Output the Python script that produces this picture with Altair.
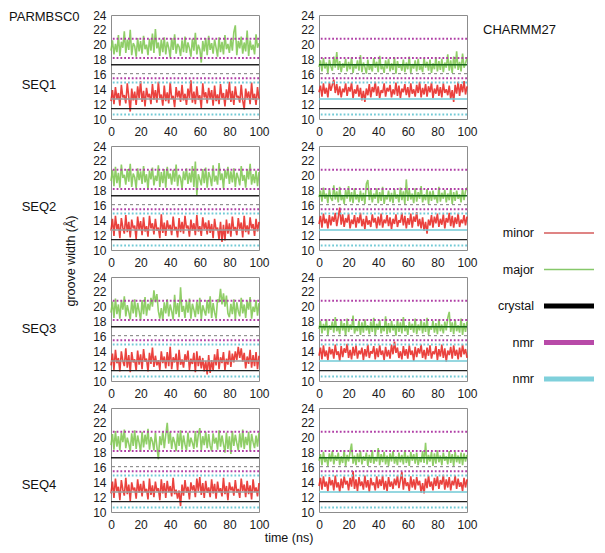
import altair as alt
import numpy as np
import pandas as pd

FONT = "Liberation Sans"
GREEN = "#7cc64e"
RED = "#e6211c"
MAGENTA = "#b03fa6"
CYAN = "#72cad6"

# ---------------- data ----------------
L1_major = [19.2, 20.6, 18.7, 20.1, 19.0, 21.3, 18.5, 20.4, 19.6, 21.8, 18.9, 20.7, 19.3, 22.0, 18.6, 20.2, 19.8, 18.4, 20.9, 19.1, 20.5, 18.8, 21.2, 19.4, 20.0, 18.6, 20.8, 19.2, 21.5, 18.9, 22.1, 19.5, 20.3, 18.5, 20.7, 19.0, 21.0, 18.7, 20.4, 19.6, 18.3, 20.9, 19.3, 21.4, 18.8, 20.1, 19.7, 18.5, 20.6, 19.0, 21.1, 18.9, 20.3, 19.5, 18.4, 20.8, 19.2, 21.6, 18.7, 20.0, 19.4, 17.6, 20.5, 19.1, 20.9, 18.6, 21.2, 19.3, 20.2, 18.8, 20.7, 19.6, 18.4, 21.0, 19.0, 20.4, 18.7, 21.3, 19.4, 20.1, 18.9, 20.8, 19.2, 21.7, 22.6, 18.6, 20.5, 19.5, 21.1, 18.8, 20.3, 19.1, 21.9, 18.5, 20.6, 19.3, 20.0, 18.7, 21.4, 19.6, 20.2]
L1_minor = [12.4, 13.9, 12.0, 14.3, 12.7, 13.5, 11.8, 14.6, 12.9, 13.2, 12.1, 14.8, 13.0, 11.0, 14.1, 12.5, 13.7, 11.9, 14.4, 12.8, 15.1, 12.3, 13.8, 11.7, 14.2, 12.9, 13.4, 12.0, 14.7, 12.6, 13.9, 12.2, 15.0, 12.8, 13.3, 11.8, 14.5, 12.4, 13.6, 12.1, 14.9, 12.7, 13.1, 11.6, 14.3, 12.9, 13.8, 12.3, 14.6, 12.5, 13.4, 11.9, 14.1, 12.8, 15.2, 12.2, 13.7, 12.0, 14.4, 12.6, 13.2, 11.5, 14.8, 12.9, 13.6, 12.1, 14.2, 12.7, 13.9, 11.8, 14.5, 12.4, 13.3, 12.0, 14.7, 12.8, 13.5, 11.7, 14.0, 12.6, 15.0, 12.3, 13.8, 11.9, 14.4, 12.9, 13.1, 12.2, 14.6, 12.5, 11.3, 14.1, 12.8, 13.7, 12.0, 14.9, 12.6, 13.4, 11.9, 14.3, 12.7]
R1_major = [17.0, 17.9, 16.4, 18.2, 16.8, 17.6, 16.2, 18.0, 17.1, 16.5, 18.4, 16.9, 19.0, 16.6, 17.8, 16.3, 17.5, 16.9, 18.1, 16.4, 17.7, 16.7, 18.3, 16.2, 17.4, 16.8, 17.9, 16.5, 18.6, 16.3, 17.6, 17.0, 16.1, 18.0, 16.6, 17.3, 16.4, 18.2, 16.9, 17.7, 16.3, 18.5, 16.7, 17.2, 16.2, 17.9, 16.8, 18.1, 16.4, 17.5, 16.6, 18.3, 16.1, 17.8, 16.9, 17.3, 16.5, 18.0, 16.3, 17.6, 16.7, 18.4, 16.2, 17.4, 16.8, 17.9, 16.4, 18.1, 16.6, 17.2, 16.3, 18.2, 16.9, 17.7, 16.5, 18.0, 16.2, 17.5, 16.7, 18.3, 16.4, 17.8, 16.6, 18.1, 16.3, 17.6, 16.9, 18.7, 16.5, 17.9, 16.2, 18.4, 16.8, 19.1, 16.6, 17.7, 16.4, 18.8, 16.9, 17.5, 18.2]
R1_minor = [13.6, 14.5, 13.0, 14.8, 13.4, 14.2, 12.9, 14.9, 13.8, 14.6, 15.3, 13.5, 14.7, 13.2, 14.4, 12.9, 14.1, 13.6, 14.8, 13.1, 14.3, 13.7, 14.9, 12.8, 14.0, 13.4, 14.6, 13.0, 14.2, 12.5, 13.8, 12.3, 14.1, 13.2, 14.7, 12.9, 14.3, 13.6, 15.0, 13.1, 14.4, 12.8, 13.9, 13.5, 14.8, 13.0, 14.2, 13.7, 14.6, 12.9, 14.0, 13.3, 14.9, 13.1, 14.5, 12.8, 14.1, 13.6, 14.7, 13.2, 14.3, 12.9, 14.8, 13.4, 14.0, 13.0, 14.6, 13.5, 15.0, 12.9, 14.2, 13.3, 14.7, 13.0, 14.4, 13.6, 14.9, 12.8, 14.1, 13.4, 14.6, 13.1, 14.3, 12.9, 14.8, 13.5, 14.0, 13.2, 14.5, 12.7, 13.9, 12.3, 14.6, 13.4, 15.0, 13.1, 14.7, 13.6, 15.1, 13.3, 14.4]
L2_major = [19.3, 20.8, 18.6, 21.2, 19.0, 20.4, 18.4, 21.5, 19.7, 20.1, 18.8, 20.9, 19.2, 21.6, 18.5, 20.3, 19.8, 18.3, 21.0, 19.4, 20.6, 18.9, 21.3, 19.1, 20.2, 18.2, 20.7, 19.5, 21.1, 18.7, 20.0, 19.3, 21.4, 18.5, 20.5, 19.0, 20.9, 18.4, 21.2, 19.6, 20.3, 18.8, 20.8, 19.2, 21.5, 18.6, 20.1, 19.7, 18.3, 20.6, 19.4, 21.0, 18.9, 20.4, 19.1, 21.3, 18.5, 21.9, 17.4, 20.2, 19.5, 18.7, 20.9, 19.0, 21.1, 18.4, 20.5, 19.8, 18.6, 21.4, 19.2, 20.0, 18.8, 21.7, 19.4, 20.3, 18.3, 20.8, 19.6, 21.2, 18.9, 20.6, 19.1, 21.0, 18.5, 20.4, 19.7, 18.7, 21.3, 19.3, 20.1, 18.4, 20.9, 19.5, 21.6, 18.8, 20.2, 19.0, 20.7, 18.6, 20.5]
L2_minor = [12.6, 14.2, 11.9, 14.6, 12.8, 13.5, 11.6, 14.3, 13.0, 12.2, 14.7, 12.4, 13.8, 11.7, 14.1, 12.9, 13.3, 11.5, 14.5, 12.7, 13.9, 12.0, 14.4, 12.5, 13.2, 11.8, 14.6, 12.9, 13.6, 12.1, 14.2, 12.6, 13.0, 11.6, 14.8, 12.3, 13.7, 11.9, 14.0, 12.8, 13.4, 12.0, 14.5, 12.7, 13.1, 11.7, 14.3, 12.4, 13.8, 12.2, 14.6, 12.9, 13.3, 11.8, 14.1, 12.6, 13.6, 12.0, 14.7, 12.5, 13.2, 11.9, 14.4, 12.8, 13.7, 12.1, 14.0, 12.3, 13.5, 11.6, 14.2, 12.7, 13.0, 11.4, 13.8, 11.1, 13.4, 11.3, 14.1, 12.2, 13.6, 11.8, 14.5, 12.6, 13.1, 12.0, 14.3, 12.8, 13.7, 11.7, 14.6, 12.4, 13.3, 12.1, 14.4, 12.9, 13.5, 11.9, 14.2, 12.5, 13.8]
R2_major = [17.1, 18.0, 16.5, 18.4, 16.9, 17.6, 16.3, 18.2, 17.0, 16.6, 18.7, 16.8, 17.9, 16.4, 18.5, 16.7, 17.4, 16.2, 18.1, 16.9, 18.6, 16.5, 17.8, 16.3, 18.3, 16.8, 17.5, 16.4, 18.0, 16.6, 17.7, 16.2, 18.9, 19.4, 16.7, 18.1, 16.4, 17.6, 16.9, 18.3, 16.3, 17.8, 16.6, 18.5, 16.2, 17.4, 16.8, 18.0, 16.5, 17.7, 16.3, 18.2, 16.9, 17.5, 16.4, 18.4, 16.7, 17.9, 16.2, 19.5, 16.6, 18.1, 16.8, 17.6, 16.3, 18.3, 16.5, 17.8, 16.9, 18.6, 16.4, 17.5, 16.7, 18.2, 16.2, 17.9, 16.6, 18.0, 16.8, 17.4, 16.3, 18.5, 16.5, 17.7, 16.9, 18.1, 16.4, 17.6, 16.7, 18.3, 16.2, 17.8, 16.6, 18.0, 16.9, 17.5, 16.4, 18.2, 16.7, 17.9, 18.4]
R2_minor = [13.5, 14.6, 13.0, 14.9, 13.6, 14.2, 12.9, 14.7, 13.3, 14.5, 13.8, 15.0, 13.2, 14.4, 15.7, 13.4, 14.8, 13.1, 14.3, 13.7, 14.9, 12.9, 14.1, 13.5, 14.7, 13.0, 14.4, 13.6, 15.0, 13.2, 14.2, 12.8, 14.6, 13.4, 14.0, 13.1, 14.8, 13.7, 14.3, 12.9, 14.5, 13.3, 14.9, 13.0, 14.1, 13.6, 14.7, 13.2, 14.4, 12.8, 14.2, 13.5, 14.8, 13.1, 14.0, 13.7, 15.0, 13.3, 14.6, 12.9, 14.3, 13.4, 14.9, 13.0, 14.5, 13.8, 15.1, 13.2, 14.2, 12.9, 14.4, 12.6, 13.8, 12.2, 14.1, 13.3, 14.7, 13.0, 14.5, 13.6, 14.9, 13.1, 14.2, 13.4, 14.8, 12.9, 14.3, 13.7, 15.0, 13.2, 14.6, 13.0, 14.4, 13.5, 14.9, 13.1, 14.1, 13.6, 14.7, 13.3, 14.5]
L3_major = [19.2, 20.7, 18.5, 21.1, 19.0, 20.3, 18.4, 20.9, 19.6, 21.4, 18.7, 20.2, 19.3, 18.3, 20.8, 19.1, 21.0, 18.6, 20.5, 19.4, 18.2, 20.9, 19.0, 21.3, 18.8, 20.4, 19.5, 21.2, 20.0, 22.2, 20.6, 21.7, 19.4, 18.4, 19.8, 18.2, 20.6, 19.1, 21.0, 18.7, 20.3, 19.4, 18.3, 21.6, 19.0, 20.5, 18.6, 22.6, 19.3, 20.1, 18.5, 20.8, 19.2, 21.1, 18.4, 20.4, 19.6, 18.6, 20.7, 19.0, 21.2, 18.3, 20.2, 19.5, 18.8, 20.9, 19.1, 21.4, 18.5, 20.5, 19.2, 18.4, 21.0, 20.6, 22.4, 20.3, 21.8, 20.0, 21.5, 19.1, 18.6, 20.4, 19.0, 21.0, 18.3, 20.6, 19.4, 18.7, 21.2, 19.1, 20.3, 18.5, 20.8, 19.6, 21.3, 18.4, 20.0, 19.3, 20.9, 18.8, 20.5]
L3_minor = [12.1, 13.7, 11.5, 14.2, 12.4, 13.1, 11.3, 14.0, 12.7, 12.0, 14.4, 11.8, 13.5, 11.2, 13.9, 12.5, 12.9, 11.4, 14.1, 12.2, 13.6, 11.6, 14.3, 12.6, 13.0, 11.3, 13.8, 12.3, 14.5, 11.9, 13.4, 12.1, 12.8, 11.5, 14.0, 12.4, 13.3, 11.7, 13.9, 12.0, 14.6, 11.6, 13.2, 12.5, 13.7, 11.4, 14.2, 12.2, 12.9, 11.8, 13.6, 12.6, 14.1, 11.5, 13.0, 12.3, 13.8, 11.2, 14.0, 12.0, 13.4, 11.7, 13.1, 11.3, 12.7, 10.9, 13.5, 11.1, 12.8, 11.4, 13.6, 12.1, 14.3, 11.6, 13.2, 12.4, 13.9, 11.5, 13.0, 12.2, 14.1, 11.9, 13.7, 12.5, 14.0, 12.8, 14.6, 13.1, 14.4, 12.6, 13.8, 11.7, 13.3, 12.3, 14.2, 11.8, 13.5, 12.0, 13.9, 11.6, 13.4]
R3_major = [17.0, 18.1, 16.4, 17.7, 16.8, 18.3, 16.2, 17.5, 16.9, 18.0, 16.5, 18.6, 16.7, 17.4, 16.3, 18.2, 16.8, 17.8, 16.1, 18.4, 16.6, 17.6, 16.9, 18.8, 16.4, 17.3, 16.7, 18.1, 16.2, 17.9, 16.5, 18.3, 16.8, 17.5, 16.3, 18.0, 16.6, 18.5, 16.2, 17.7, 16.9, 18.2, 16.4, 17.4, 16.7, 18.7, 16.3, 17.8, 16.5, 18.1, 16.8, 17.6, 16.1, 18.3, 16.6, 17.9, 16.4, 18.6, 16.7, 17.5, 16.2, 18.0, 16.9, 17.7, 16.5, 18.4, 16.3, 17.6, 16.8, 18.2, 16.4, 17.9, 16.6, 18.5, 16.2, 17.4, 16.9, 18.1, 16.5, 17.8, 16.3, 18.3, 16.7, 17.6, 16.4, 18.0, 16.8, 18.5, 19.3, 16.6, 17.9, 16.3, 18.2, 16.7, 17.5, 16.5, 18.4, 16.2, 17.8, 16.6, 18.0]
R3_minor = [13.4, 14.5, 12.9, 14.8, 13.3, 14.1, 12.8, 14.6, 13.6, 14.3, 13.0, 14.9, 13.5, 14.0, 12.7, 14.7, 13.2, 14.4, 13.8, 15.0, 13.1, 14.2, 12.9, 14.6, 13.4, 14.8, 13.0, 14.1, 13.6, 14.5, 12.8, 14.3, 13.3, 14.9, 13.1, 14.0, 13.7, 14.7, 12.9, 14.4, 13.2, 14.8, 13.5, 14.1, 12.8, 14.6, 13.3, 14.2, 13.0, 14.9, 13.6, 15.3, 13.8, 14.5, 13.1, 14.0, 12.9, 14.7, 13.4, 14.3, 13.0, 14.8, 13.5, 14.1, 12.7, 14.6, 13.2, 14.4, 13.7, 14.9, 13.1, 14.2, 12.9, 14.5, 13.4, 14.8, 13.0, 14.0, 13.6, 14.7, 12.8, 14.3, 13.3, 14.9, 13.1, 14.4, 12.6, 14.1, 13.5, 14.6, 13.0, 14.8, 13.4, 14.2, 12.9, 14.5, 13.2, 14.9, 13.6, 14.3, 13.1]
L4_major = [19.0, 20.5, 18.4, 20.9, 18.8, 20.2, 18.3, 20.7, 19.4, 21.1, 18.6, 20.0, 19.2, 18.2, 20.6, 18.9, 21.0, 18.5, 20.3, 19.3, 18.1, 20.8, 18.7, 20.4, 19.1, 21.2, 18.4, 20.1, 19.5, 18.3, 20.7, 18.8, 17.1, 20.2, 19.0, 20.9, 18.6, 20.4, 22.0, 19.2, 20.8, 18.5, 20.1, 19.4, 18.2, 20.6, 18.9, 21.0, 18.4, 20.3, 19.1, 18.3, 20.7, 18.8, 20.0, 19.3, 18.5, 20.9, 18.7, 20.4, 21.3, 18.3, 20.2, 19.0, 20.8, 18.6, 20.5, 18.9, 18.2, 20.6, 19.2, 20.0, 18.4, 21.0, 18.8, 20.3, 19.1, 18.0, 20.7, 18.5, 20.2, 17.8, 20.9, 18.9, 20.4, 19.3, 18.3, 20.6, 18.7, 21.1, 18.5, 20.1, 19.0, 20.8, 18.2, 20.5, 19.4, 18.6, 20.3, 18.8, 20.7]
L4_minor = [12.5, 14.1, 11.9, 14.5, 12.8, 13.4, 11.6, 14.3, 13.0, 12.2, 14.6, 12.4, 13.7, 11.5, 14.0, 12.9, 13.3, 11.8, 14.4, 12.6, 13.8, 12.1, 14.2, 12.7, 13.1, 11.7, 14.5, 12.3, 13.6, 12.0, 14.1, 12.8, 13.2, 11.6, 14.4, 12.5, 13.9, 11.9, 14.2, 12.7, 13.5, 12.1, 14.6, 12.4, 13.0, 11.8, 12.9, 10.8, 13.7, 12.2, 14.3, 12.6, 13.4, 11.7, 14.0, 12.9, 13.6, 12.0, 14.5, 12.8, 14.7, 12.3, 13.9, 11.9, 14.2, 12.6, 13.3, 12.0, 14.4, 12.5, 13.8, 11.8, 14.1, 12.7, 13.2, 12.1, 14.6, 12.4, 13.5, 11.6, 14.0, 12.9, 13.4, 12.2, 14.3, 12.6, 13.1, 11.9, 14.5, 12.8, 13.7, 12.0, 14.2, 12.4, 13.6, 11.7, 14.4, 12.7, 13.3, 12.1, 13.9]
R4_major = [16.9, 17.8, 16.3, 18.1, 16.7, 17.4, 16.2, 17.9, 16.8, 18.2, 16.4, 17.6, 16.9, 18.0, 16.3, 17.5, 16.6, 18.3, 16.2, 17.7, 16.8, 18.1, 19.2, 16.5, 17.6, 16.3, 17.9, 16.7, 18.2, 16.4, 17.5, 16.9, 18.0, 16.2, 17.7, 16.6, 18.3, 16.5, 17.4, 16.8, 18.6, 16.3, 17.8, 16.7, 18.1, 16.4, 17.6, 16.2, 17.9, 16.8, 18.2, 16.5, 17.5, 16.3, 18.0, 16.7, 17.7, 16.4, 18.3, 16.6, 17.6, 16.2, 18.1, 16.9, 17.8, 16.5, 18.0, 16.3, 17.4, 16.7, 18.2, 16.6, 19.3, 16.4, 17.7, 16.8, 18.1, 16.2, 17.9, 16.5, 18.3, 16.7, 17.6, 16.3, 18.0, 16.9, 17.5, 16.4, 18.2, 16.6, 17.8, 16.2, 18.1, 16.7, 17.6, 16.5, 18.0, 16.3, 17.9, 16.8, 17.7]
R4_minor = [13.5, 14.6, 13.0, 14.8, 13.4, 14.1, 12.8, 14.7, 13.6, 14.3, 12.9, 14.9, 13.3, 14.0, 12.7, 14.5, 13.2, 14.8, 13.7, 14.2, 12.9, 14.6, 13.4, 15.5, 13.1, 14.4, 12.8, 14.7, 13.5, 14.1, 13.0, 14.9, 13.3, 14.3, 12.7, 14.6, 13.6, 14.0, 12.9, 14.8, 13.2, 14.4, 13.5, 14.9, 13.0, 14.2, 12.8, 14.7, 13.4, 14.1, 13.1, 14.5, 13.6, 14.9, 13.2, 14.3, 15.4, 13.0, 14.6, 13.5, 14.0, 12.8, 14.8, 13.3, 14.4, 13.0, 14.7, 13.6, 14.2, 12.6, 13.9, 12.5, 14.5, 13.2, 14.9, 13.4, 14.1, 12.9, 14.6, 13.5, 14.8, 13.1, 14.3, 13.7, 15.0, 13.0, 14.4, 13.3, 14.7, 12.9, 14.2, 13.6, 14.9, 13.1, 14.5, 13.4, 14.0, 12.8, 14.6, 13.3, 14.4]

x_ticks = [0, 20, 40, 60, 80, 100]
y_ticks = [10, 12, 14, 16, 18, 20, 22, 24]

# reference levels
nmr_magenta_levels = [20.8, 18.2, 15.5]
nmr_cyan_levels = [14.9, 10.6]
crystal_levels = [17.3, 11.4]
gray_levels = [16.1]
solid_cyan_levels = [12.7]

seq_labels = ["SEQ1", "SEQ2", "SEQ3", "SEQ4"]
left_series = [(L1_major, L1_minor), (L2_major, L2_minor), (L3_major, L3_minor), (L4_major, L4_minor)]
right_series = [(R1_major, R1_minor), (R2_major, R2_minor), (R3_major, R3_minor), (R4_major, R4_minor)]

legend_keys = ["minor", "major", "crystal", "nmr_m", "nmr_c"]
legend_labels = ["minor", "major", "crystal", "nmr", "nmr"]
legend_order = [0, 1, 2, 3, 4]
legend_colors = ["#d45b5b", "#86c86a", "#000000", "#b84aa8", "#7fd0db"]
legend_widths = [1.5, 1.5, 5, 5, 5]

W, H = 148, 104
ROW_GAP, COL_GAP = 27, 60
LEG_W = 69

X = alt.X("t:Q", scale=alt.Scale(domain=[0, 100], nice=False),
          axis=alt.Axis(values=x_ticks, title=None, labelPadding=7, labelFlush=False, labelOverlap=False))
Y = alt.Y("w:Q", scale=alt.Scale(domain=[10, 24], nice=False, zero=False),
          axis=alt.Axis(values=y_ticks, title=None, labelPadding=5, labelOverlap=False))

NO_FRAME = alt.ViewBackground(stroke="transparent")


def rules(values, color, width, dash=None):
    kw = dict(color=color, strokeWidth=width)
    if dash:
        kw["strokeDash"] = dash
    return alt.Chart(pd.DataFrame({"w": values})).mark_rule(**kw).encode(y=Y)


def label(text, xv, yv, **kw):
    return alt.Chart(pd.DataFrame({"txt": [text]})).mark_text(
        font=FONT, color="#111111", **kw
    ).encode(text="txt:N", x=alt.value(xv), y=alt.value(yv))


def panel(major, minor, right, extra):
    rows = []
    for name, vals in (("major", major), ("minor", minor)):
        ts = np.linspace(0, 100, len(vals))
        rows += [{"t": float(a), "w": float(b), "s": name} for a, b in zip(ts, vals)]
    df = pd.DataFrame(rows)
    series = alt.Chart(df).mark_line(strokeWidth=1.6, opacity=0.85, strokeJoin="bevel").encode(
        x=X, y=Y,
        color=alt.Color("s:N", scale=alt.Scale(domain=["major", "minor"], range=[GREEN, RED]), legend=None),
    )
    layers = [
        series,
        rules(gray_levels, "#7a7a7a", 1.0, [3, 3]),
        rules(nmr_magenta_levels, MAGENTA, 2.0, [1.8, 2.0]),
        rules(nmr_cyan_levels, CYAN, 2.0, [1.8, 2.0]),
        rules(solid_cyan_levels, CYAN if right else "#9c9c9c", 1.4),
        rules(crystal_levels[:1], "#1c6a1c" if right else "#222222", 1.4),
        rules(crystal_levels[1:], "#222222", 1.4),
    ] + extra
    return alt.layer(*layers).properties(width=W, height=H)


def blank():
    return alt.Chart(pd.DataFrame({"txt": [""]})).mark_text().encode(
        text="txt:N", x=alt.value(0), y=alt.value(0)
    ).properties(width=LEG_W, height=H, view=NO_FRAME)


# legend (sits in the third column of the second row, drawn past its cell)
leg_df = pd.DataFrame({
    "key": legend_keys, "lab": legend_labels, "pos": legend_order, "col": legend_colors,
    "sw": legend_widths, "x0": [0] * 5, "x1": [1] * 5,
})
leg_x = alt.X("x0:Q", axis=None, scale=alt.Scale(domain=[0, 1], nice=False, range=[17, LEG_W - 2]))
leg_y = alt.Y("pos:Q", axis=None, scale=alt.Scale(domain=[0, 4], nice=False, zero=False, range=[87, 233]))
leg_lines = alt.Chart(leg_df).mark_rule().encode(
    x=leg_x, x2="x1:Q", y=leg_y,
    color=alt.Color("col:N", scale=None),
    strokeWidth=alt.StrokeWidth("sw:Q", scale=None),
)
leg_text = alt.Chart(leg_df).mark_text(
    align="right", baseline="middle", dx=-10, fontSize=12.5, font=FONT, color="#111111"
).encode(x=leg_x, y=leg_y, text="lab:N")
legend = alt.layer(leg_lines, leg_text).properties(width=LEG_W, height=H, view=NO_FRAME)

seq_y = [70, 61, 52, 77]
cells = []
for i in range(4):
    extra_left = [label(seq_labels[i], -72, seq_y[i], fontSize=13, align="center", baseline="middle")]
    extra_right = []
    if i == 0:
        extra_left.append(label("PARMBSC0", -102, 2, fontSize=13, align="left", baseline="middle"))
        extra_right.append(label("CHARMM27", W + 16, 15, fontSize=13, align="left", baseline="middle"))
    if i == 1:
        extra_left.append(label("groove width (Å)", -40, 115, fontSize=12.5, align="center",
                                baseline="middle", angle=270))
    if i == 3:
        extra_left.append(label("time (ns)", 178, H + 26, fontSize=12.5, align="center", baseline="middle"))
    cells.append(panel(*left_series[i], False, extra_left))
    cells.append(panel(*right_series[i], True, extra_right))
    if i < 3:
        cells.append(legend if i == 1 else blank())

chart = alt.concat(
    *cells, columns=3, bounds="flush",
    spacing=alt.RowColnumber(row=ROW_GAP, column=COL_GAP),
).properties(padding=0).configure_view(
    stroke="#8c8c8c", strokeWidth=1
).configure_axis(
    labelFont=FONT, labelFontSize=12, labelColor="#1a1a1a", domain=False, ticks=False, grid=False
)

chart.save("out.html", embed_options={"renderer": "svg", "actions": False})
